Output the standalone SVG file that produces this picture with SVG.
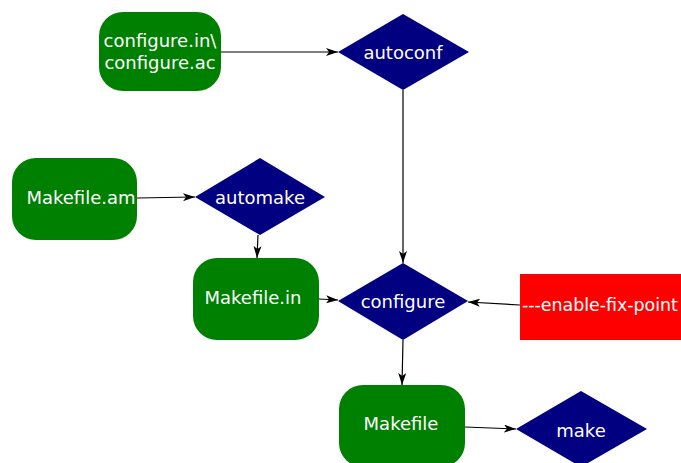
<svg xmlns="http://www.w3.org/2000/svg" width="681" height="463" viewBox="0 0 681 463">
<style>
.box{fill:#008000}
.dia{fill:#000080}
.red{fill:#ff0000}
text{font-family:"DejaVu Sans",sans-serif;font-size:18px;fill:#ffffff;text-anchor:middle;dominant-baseline:central}
.edge{stroke:#000;stroke-width:1.2;fill:none;marker-end:url(#ah)}
</style>
<defs>
<marker id="ah" markerWidth="12" markerHeight="8" refX="12" refY="4" orient="auto" markerUnits="userSpaceOnUse">
<path d="M0,0 L12,4 L0,8 L3,4 Z" fill="#000"/>
</marker>
</defs>
<rect width="681" height="463" fill="#fff"/>
<g id="edges">
<line class="edge" x1="221" y1="52" x2="338" y2="52"/>
<line class="edge" x1="403" y1="90" x2="403" y2="263"/>
<line class="edge" x1="137" y1="198" x2="195" y2="197"/>
<line class="edge" x1="258" y1="235" x2="257" y2="258"/>
<line class="edge" x1="319" y1="299" x2="338" y2="300"/>
<line class="edge" x1="520" y1="305" x2="468" y2="302"/>
<line class="edge" x1="403" y1="340" x2="402" y2="385"/>
<line class="edge" x1="465" y1="427" x2="516" y2="429"/>
</g>
<g id="configure-in">
<rect class="box" x="99" y="12" width="122" height="79" rx="24"/>
<text x="160" y="40">configure.in\</text>
<text x="160" y="62">configure.ac</text>
</g>
<g id="autoconf">
<polygon class="dia" points="338,52 403,14 469,52 403,90"/>
<text x="403" y="52">autoconf</text>
</g>
<g id="makefile-am">
<rect class="box" x="12" y="158" width="125" height="82" rx="24"/>
<text x="81" y="197">Makefile.am</text>
</g>
<g id="automake">
<polygon class="dia" points="195,197 260,158 325,197 260,235"/>
<text x="260" y="197">automake</text>
</g>
<g id="makefile-in">
<rect class="box" x="193" y="258" width="126" height="82" rx="24"/>
<text x="253" y="297">Makefile.in</text>
</g>
<g id="configure">
<polygon class="dia" points="338,301 403,263 468,301 403,340"/>
<text x="403" y="301">configure</text>
</g>
<g id="enable-fix-point">
<rect class="red" x="520" y="274" width="161" height="66"/>
<text x="522" y="305" style="text-anchor:start;font-size:17.4px">---enable-fix-point</text>
</g>
<g id="makefile">
<rect class="box" x="339" y="385" width="126" height="82" rx="24"/>
<text x="401" y="423">Makefile</text>
</g>
<g id="make">
<polygon class="dia" points="516,429 581,391 647,429 581,467"/>
<text x="581" y="430">make</text>
</g>
</svg>
